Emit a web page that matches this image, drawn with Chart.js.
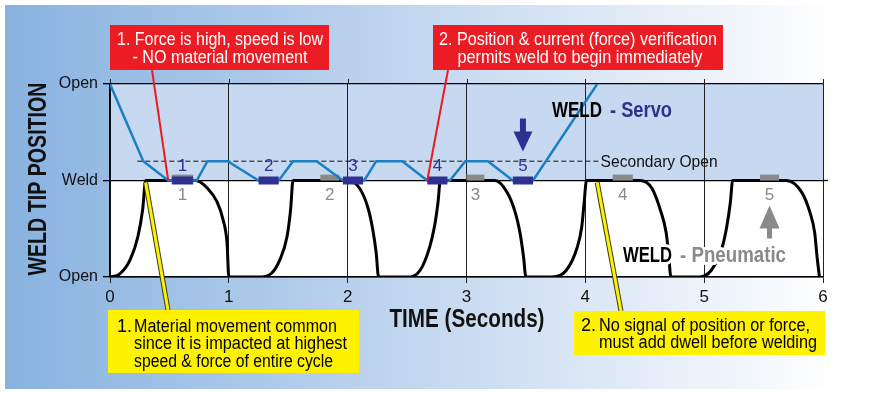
<!DOCTYPE html>
<html>
<head>
<meta charset="utf-8">
<title>Weld tip position - Servo vs Pneumatic</title>
<script src="https://cdn.jsdelivr.net/npm/chart.js@4.4.1/dist/chart.umd.min.js"></script>
<style>
  html, body { margin: 0; padding: 0; background: #fff; }
  canvas { display: block; }
</style>
</head>
<body>
<canvas id="weldChart" width="874" height="394"></canvas>
<script>
// Position levels: 0 = open (pneumatic), 1 = weld, 2 = open (servo)
const yTickLabels = { 0: 'Open', 1: 'Weld', 2: 'Open' };
const xTicks = [0, 1, 2, 3, 4, 5, 6];
const WELD = 1;
const secondaryOpen = 1.2;
const secondaryOpenSpan = [0.23, 4.12];

// Servo gun tip travel (seconds, position)
const servoTime = [0, 0.28, 0.49, 0.73, 0.82, 0.99, 1.25, 1.42, 1.54, 1.74, 1.96, 2.14, 2.24, 2.46, 2.67, 2.86, 2.99, 3.18, 3.39, 3.56, 4.10];
const servoPos  = [2, 1.2,  1,    1,    1.2,  1.2,  1,    1,    1.2,  1.2,  1,    1,    1.2,  1.2,  1,    1,    1.2,  1.2,  1,    1,    2];

// Servo welds (start / end in seconds)
const servoWeldStart = [0.52, 1.25, 1.96, 2.67, 3.39];
const servoWeldEnd   = [0.70, 1.42, 2.13, 2.84, 3.56];

// Pneumatic gun tip travel (seconds, position)
const pneuTime = [
  0, 0.08, 0.17, 0.235, 0.275, 0.30,
  0.72, 0.82, 0.90, 0.95, 0.985, 1.00,
  1.25, 1.35, 1.43, 1.49, 1.52, 1.54,
  2.00, 2.10, 2.17, 2.21, 2.24, 2.26,
  2.50, 2.61, 2.69, 2.73, 2.76, 2.78,
  3.24, 3.34, 3.41, 3.45, 3.48, 3.50,
  3.72, 3.84, 3.93, 3.97, 3.99, 4.01,
  4.46, 4.56, 4.63, 4.68, 4.70, 4.72,
  4.96, 5.06, 5.15, 5.19, 5.22, 5.24,
  5.69, 5.82, 5.89, 5.93, 5.95, 5.97
];
const pneuPos = [
  0, 0.03, 0.18, 0.42, 0.70, 1,
  1, 0.92, 0.78, 0.60, 0.35, 0,
  0, 0.03, 0.18, 0.42, 0.70, 1,
  1, 0.92, 0.72, 0.50, 0.25, 0,
  0, 0.07, 0.31, 0.52, 0.77, 1,
  1, 0.88, 0.67, 0.46, 0.21, 0,
  0, 0.07, 0.30, 0.52, 0.77, 1,
  1, 0.92, 0.70, 0.46, 0.25, 0,
  0, 0.07, 0.30, 0.52, 0.77, 1,
  1, 0.88, 0.67, 0.46, 0.21, 0
];

// Pneumatic welds (start / end in seconds)
const pneuWeldStart = [0.52, 1.77, 3.00, 4.23, 5.47];
const pneuWeldEnd   = [0.70, 1.93, 3.15, 4.40, 5.63];

// Callout anchor times
const redNoteTime = [servoTime[2], servoTime[14]];
const yellowNoteTime = [0.30, 4.10];

const FONT = '"Liberation Sans", Arial, sans-serif';
const NAVY = '#2e3192';
const SERVO_BLUE = '#1b80c3';
const GREY = '#8a8a8a';
const RED = '#ec1c24';
const YELLOW = '#fff200';

function points(xs, ys) {
  return xs.map((t, i) => ({ x: t, y: ys[i] }));
}

function mid(a, b) { return (a + b) / 2; }

// Build datasets (lower order draws on top)
const datasets = [];
datasets.push({
  data: points(servoTime, servoPos),
  borderColor: SERVO_BLUE, borderWidth: 2.5, tension: 0, order: 2
});
datasets.push({
  data: points(secondaryOpenSpan, [secondaryOpen, secondaryOpen]),
  borderColor: '#111', borderWidth: 1, borderDash: [5, 3], order: 3
});
datasets.push({
  data: points(pneuTime, pneuPos),
  borderColor: '#000', borderWidth: 3, cubicInterpolationMode: 'monotone', order: 6
});
servoWeldStart.forEach((s, i) => {
  datasets.push({
    data: points([s, servoWeldEnd[i]], [WELD, WELD]),
    borderColor: NAVY, borderWidth: 8, borderCapStyle: 'butt', order: 1
  });
});
pneuWeldStart.forEach((s, i) => {
  datasets.push({
    data: points([s, pneuWeldEnd[i]], [WELD + 0.03, WELD + 0.03]),
    borderColor: GREY, borderWidth: 6, borderCapStyle: 'butt', order: 5
  });
});

// Background panel and the two bands of the plot
const backdrop = {
  id: 'backdrop',
  beforeDraw(chart) {
    const ctx = chart.ctx;
    const x = chart.scales.x, y = chart.scales.y;
    ctx.save();
    ctx.fillStyle = '#fff';
    ctx.fillRect(0, 0, chart.width, chart.height);
    const g = ctx.createLinearGradient(5, 0, 870, 0);
    g.addColorStop(0, '#88b2e0');
    g.addColorStop(0.5, '#c6d9f0');
    g.addColorStop(0.96, '#ffffff');
    ctx.fillStyle = g;
    ctx.fillRect(5, 5, 865, 384);
    const yTop = y.getPixelForValue(2), yWeld = y.getPixelForValue(WELD), yBot = y.getPixelForValue(0);
    ctx.fillStyle = '#c6d9f0';
    ctx.fillRect(x.left, yTop, x.right - x.left, yWeld - yTop);
    ctx.fillStyle = '#fff';
    ctx.fillRect(x.left, yWeld, x.right - x.left, yBot - yWeld);
    ctx.restore();
  }
};

function arrow(ctx, cx, tipY, dir, len, headLen, headW, shaftW, color) {
  // dir = 1 points down, -1 points up
  const baseY = tipY - dir * len;
  const headY = tipY - dir * headLen;
  ctx.fillStyle = color;
  ctx.beginPath();
  ctx.moveTo(cx - shaftW / 2, baseY);
  ctx.lineTo(cx + shaftW / 2, baseY);
  ctx.lineTo(cx + shaftW / 2, headY);
  ctx.lineTo(cx + headW / 2, headY);
  ctx.lineTo(cx, tipY);
  ctx.lineTo(cx - headW / 2, headY);
  ctx.lineTo(cx - shaftW / 2, headY);
  ctx.closePath();
  ctx.fill();
}

function boxText(ctx, lines, color, size, weight) {
  ctx.fillStyle = color;
  ctx.font = weight + ' ' + size + 'px ' + FONT;
  lines.forEach(l => {
    ctx.textAlign = l.align || 'left';
    ctx.fillText(l.text, l.x, l.y, l.w);
  });
}

const annotations = {
  id: 'annotations',
  afterDraw(chart) {
    const ctx = chart.ctx;
    const x = chart.scales.x, y = chart.scales.y;
    const yWeld = y.getPixelForValue(WELD);
    ctx.save();

    // small extensions of the frame
    ctx.strokeStyle = '#222';
    ctx.lineWidth = 1;
    xTicks.forEach(v => {
      const px = Math.round(x.getPixelForValue(v)) + 0.5;
      ctx.beginPath(); ctx.moveTo(px, y.top - 5); ctx.lineTo(px, y.top); ctx.stroke();
    });
    ctx.strokeStyle = '#000';
    ctx.lineWidth = 1.3;
    ctx.beginPath(); ctx.moveTo(x.right, yWeld); ctx.lineTo(x.right + 5, yWeld); ctx.stroke();

    // weld numbers
    ctx.font = '17px ' + FONT;
    ctx.textAlign = 'center';
    ctx.textBaseline = 'middle';
    servoWeldStart.forEach((s, i) => {
      ctx.fillStyle = NAVY;
      ctx.fillText(String(i + 1), x.getPixelForValue(mid(s, servoWeldEnd[i])), yWeld - 14);
    });
    pneuWeldStart.forEach((s, i) => {
      ctx.fillStyle = GREY;
      ctx.fillText(String(i + 1), x.getPixelForValue(mid(s, pneuWeldEnd[i])), yWeld + 15);
    });

    // arrows on the fifth weld
    const last = servoWeldStart.length - 1;
    arrow(ctx, x.getPixelForValue(mid(servoWeldStart[last], servoWeldEnd[last])), yWeld - 29, 1, 33, 20, 19, 6, NAVY);
    arrow(ctx, x.getPixelForValue(mid(pneuWeldStart[last], pneuWeldEnd[last])), yWeld + 25, -1, 33, 23, 20, 5, GREY);

    // Secondary Open label
    ctx.textBaseline = 'alphabetic';
    ctx.textAlign = 'left';
    ctx.fillStyle = '#111';
    ctx.font = '17px ' + FONT;
    ctx.fillText('Secondary Open', x.getPixelForValue(secondaryOpenSpan[1]) + 1, y.getPixelForValue(secondaryOpen) + 6, 117);

    // WELD - Servo
    ctx.font = 'bold 22px ' + FONT;
    ctx.fillStyle = '#000';
    ctx.fillText('WELD', 552, 117, 50);
    ctx.fillStyle = NAVY;
    ctx.fillText('- Servo', 610, 117, 62);

    // WELD - Pneumatic (knocked out of the curve)
    ctx.lineJoin = 'round';
    ctx.strokeStyle = '#fff';
    ctx.lineWidth = 6;
    ctx.strokeText('WELD', 623, 262, 49);
    ctx.strokeText('- Pneumatic', 680, 262, 106);
    ctx.fillStyle = '#000';
    ctx.fillText('WELD', 623, 262, 49);
    ctx.fillStyle = GREY;
    ctx.fillText('- Pneumatic', 680, 262, 106);

    // Connector lines
    ctx.strokeStyle = RED;
    ctx.lineWidth = 2;
    ctx.beginPath();
    ctx.moveTo(152, 70); ctx.lineTo(x.getPixelForValue(redNoteTime[0]), yWeld);
    ctx.moveTo(448, 70); ctx.lineTo(x.getPixelForValue(redNoteTime[1]), yWeld);
    ctx.stroke();

    const yellowEnds = [[168, 310], [621, 311]];
    yellowNoteTime.forEach((t, i) => {
      const px = x.getPixelForValue(t);
      ctx.lineCap = 'butt';
      ctx.strokeStyle = '#3a3a1a';
      ctx.lineWidth = 5;
      ctx.beginPath(); ctx.moveTo(px, yWeld + 2); ctx.lineTo(yellowEnds[i][0], yellowEnds[i][1]); ctx.stroke();
      ctx.strokeStyle = YELLOW;
      ctx.lineWidth = 3;
      ctx.beginPath(); ctx.moveTo(px, yWeld + 2); ctx.lineTo(yellowEnds[i][0], yellowEnds[i][1]); ctx.stroke();
    });

    // Red callouts
    ctx.fillStyle = RED;
    ctx.fillRect(110, 25, 219, 45);
    ctx.fillRect(433, 25, 290, 45);
    boxText(ctx, [
      { text: '1. Force is high, speed is low', x: 220, y: 45, w: 206, align: 'center' },
      { text: '- NO material movement', x: 220, y: 63, w: 175, align: 'center' }
    ], '#fff', 18, 'normal');
    boxText(ctx, [
      { text: '2. Position & current (force) verification', x: 578, y: 45, w: 278, align: 'center' },
      { text: 'permits weld to begin immediately', x: 580, y: 63, w: 245, align: 'center' }
    ], '#fff', 18, 'normal');

    // Yellow callouts
    ctx.fillStyle = YELLOW;
    ctx.fillRect(108, 310, 251, 63);
    ctx.fillRect(574, 311, 251, 44);
    boxText(ctx, [
      { text: '1.', x: 117, y: 332 },
      { text: 'Material movement common', x: 134, y: 332, w: 203 },
      { text: 'since it is impacted at highest', x: 134, y: 349, w: 213 },
      { text: 'speed & force of entire cycle', x: 134, y: 367, w: 199 }
    ], '#000', 18, 'normal');
    boxText(ctx, [
      { text: '2.', x: 581, y: 331 },
      { text: 'No signal of position or force,', x: 599, y: 331, w: 211 },
      { text: 'must add dwell before welding', x: 599, y: 348, w: 218 }
    ], '#000', 18, 'normal');

    // Axis titles
    ctx.fillStyle = '#111';
    ctx.font = 'bold 25px ' + FONT;
    ctx.textAlign = 'center';
    ctx.fillText('TIME (Seconds)', 467, 327, 155);
    ctx.save();
    ctx.translate(46, 179);
    ctx.rotate(-Math.PI / 2);
    ctx.font = 'bold 25px ' + FONT;
    ctx.fillText('WELD TIP POSITION', 0, 0, 193);
    ctx.restore();

    ctx.restore();
  }
};

new Chart(document.getElementById('weldChart'), {
  type: 'line',
  data: { datasets: datasets },
  plugins: [backdrop, annotations],
  options: {
    responsive: false,
    devicePixelRatio: 1,
    animation: false,
    layout: { padding: { left: 0, top: 84, right: 51, bottom: 0 } },
    elements: { point: { radius: 0, hoverRadius: 0 } },
    plugins: { legend: { display: false }, tooltip: { enabled: false } },
    scales: {
      x: {
        type: 'linear',
        min: 0,
        max: 6,
        afterBuildTicks: s => { s.ticks = xTicks.map(v => ({ value: v })); },
        afterFit: s => { s.height = 117; },
        grid: { color: '#222', lineWidth: 1, tickLength: 6, drawTicks: true },
        border: { color: '#000', width: 1.5 },
        ticks: { color: '#111', font: { family: FONT, size: 17 }, padding: 4, maxRotation: 0, autoSkip: false }
      },
      y: {
        type: 'linear',
        min: 0,
        max: 2,
        afterBuildTicks: s => { s.ticks = [0, 1, 2].map(v => ({ value: v })); },
        afterFit: s => { s.width = 110; },
        grid: { color: '#000', lineWidth: 1.3, tickLength: 7, drawTicks: true },
        border: { color: '#000', width: 1.5 },
        ticks: { color: '#111', font: { family: FONT, size: 16 }, padding: 5, callback: v => yTickLabels[v] }
      }
    }
  }
});
</script>
</body>
</html>
